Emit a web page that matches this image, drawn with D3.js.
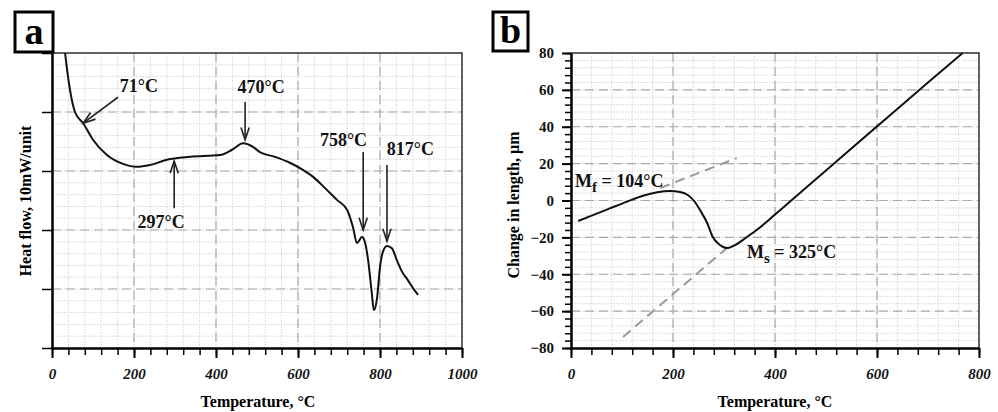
<!DOCTYPE html>
<html>
<head>
<meta charset="utf-8">
<script src="https://cdn.jsdelivr.net/npm/d3@7"></script>
<style>
  body { margin: 0; background: #fff; }
  svg { display: block; font-family: "Liberation Serif", "Times New Roman", serif; }
</style>
</head>
<body>
<div id="container"></div>
<script>
/* DATA */
// panel a: DSC heat flow
const heatTemp = [32, 38, 44, 56, 76, 100, 134, 173, 207, 239, 280, 337, 410, 439, 466, 490, 507, 544, 580, 612, 637, 666, 695, 720, 734, 744, 756, 763, 771, 780, 785, 793, 800, 807, 817, 829, 841, 854, 868, 880, 893];
const heatFlow = [5.0, 4.65, 4.37, 4.0, 3.81, 3.53, 3.27, 3.12, 3.07, 3.10, 3.19, 3.24, 3.27, 3.36, 3.47, 3.41, 3.32, 3.24, 3.14, 3.02, 2.90, 2.71, 2.51, 2.34, 2.05, 1.78, 1.88, 1.80, 1.49, 0.93, 0.64, 0.86, 1.37, 1.63, 1.73, 1.69, 1.49, 1.29, 1.15, 1.02, 0.90];
const heatXTicks = [0, 200, 400, 600, 800, 1000];
const heatYTicks = [0, 1, 2, 3, 4, 5];

// panel b: dilatometry
const lenTemp = [14, 43, 76, 110, 141, 169, 194, 214, 229, 243, 253, 267, 278, 292, 306, 318, 345, 371, 396, 420, 500, 600, 700, 768];
const lenChange = [-11.1, -7.9, -4.3, -0.6, 2.6, 4.5, 5.2, 4.6, 3.0, -0.8, -5.2, -12.2, -19.8, -24.1, -25.8, -24.7, -19.8, -14.5, -8.6, -2.8, 16.3, 40.2, 64, 80];
const lenXTicks = [0, 200, 400, 600, 800];
const lenYTicks = [-80, -60, -40, -20, 0, 20, 40, 60, 80];
const mfTangentT = [175, 325], mfTangentV = [6.8, 23];
const msTangentT = [102, 308], msTangentV = [-74, -25.2];

// annotations (temperature labels with arrows)
const heatNotes = [
  { label: "71°C",  tx: 212, ty: 4.34, from: [161, 4.25], to: [76, 3.81] },
  { label: "470°C", tx: 510, ty: 4.32, from: [471, 4.17], to: [471, 3.53] },
  { label: "297°C", tx: 266, ty: 2.03, from: [298, 2.37], to: [298, 3.17] },
  { label: "758°C", tx: 711, ty: 3.42, from: [759, 3.32], to: [759, 2.0] },
  { label: "817°C", tx: 874, ty: 3.27, from: [817, 3.10], to: [817, 1.81] }
];

/* SETUP */
const W = 998, H = 412;
const svg = d3.select('#container').append('svg')
  .attr('width', W).attr('height', H);

const plotTop = 53, plotBottom = 348;

const xA = d3.scaleLinear().domain([0, 1000]).range([52, 462]);
const yA = d3.scaleLinear().domain([0, 5]).range([plotBottom, plotTop]);
const xB = d3.scaleLinear().domain([0, 800]).range([571, 979]);
const yB = d3.scaleLinear().domain([-80, 80]).range([plotBottom, plotTop]);

function grid(x, y, xMinor, yMinor, xMajor, yMajor) {
  const g = svg.append('g');
  g.selectAll('line.vmin').data(xMinor).join('line')
    .attr('x1', d => x(d)).attr('x2', d => x(d))
    .attr('y1', plotTop).attr('y2', plotBottom)
    .attr('stroke', '#dedede').attr('stroke-width', 1).attr('stroke-dasharray', '2,1');
  g.selectAll('line.hmin').data(yMinor).join('line')
    .attr('x1', x.range()[0]).attr('x2', x.range()[1])
    .attr('y1', d => y(d)).attr('y2', d => y(d))
    .attr('stroke', '#dedede').attr('stroke-width', 1).attr('stroke-dasharray', '2,1');
  g.selectAll('line.vmaj').data(xMajor).join('line')
    .attr('x1', d => x(d)).attr('x2', d => x(d))
    .attr('y1', plotTop).attr('y2', plotBottom)
    .attr('stroke', '#aaa').attr('stroke-width', 1.2).attr('stroke-dasharray', '9,5');
  g.selectAll('line.hmaj').data(yMajor).join('line')
    .attr('x1', x.range()[0]).attr('x2', x.range()[1])
    .attr('y1', d => y(d)).attr('y2', d => y(d))
    .attr('stroke', '#aaa').attr('stroke-width', 1.2).attr('stroke-dasharray', '9,5');
}

function frame(x) {
  const [x0, x1] = x.range();
  svg.append('path')
    .attr('d', `M${x0},${plotTop}H${x1}V${plotBottom}`)
    .attr('fill', 'none').attr('stroke', '#333').attr('stroke-width', 1.5);
}

function panelLetter(x0, y0, w, h, letter, size) {
  svg.append('rect').attr('x', x0).attr('y', y0).attr('width', w).attr('height', h)
    .attr('fill', '#fff').attr('stroke', '#000').attr('stroke-width', 3);
  svg.append('text').attr('x', x0 + w / 2).attr('y', y0 + h - 8)
    .attr('text-anchor', 'middle').attr('font-weight', 'bold')
    .attr('font-size', size).text(letter);
}

function arrow(x1, y1, x2, y2) {
  const ang = Math.atan2(y2 - y1, x2 - x1);
  const len = 13, spread = 0.32;
  const g = svg.append('g').attr('stroke', '#222').attr('stroke-width', 1.6).attr('fill', 'none');
  g.append('line').attr('x1', x1).attr('y1', y1).attr('x2', x2).attr('y2', y2);
  g.append('path').attr('d',
    `M${x2 - len * Math.cos(ang - spread)},${y2 - len * Math.sin(ang - spread)}` +
    `L${x2},${y2}` +
    `L${x2 - len * Math.cos(ang + spread)},${y2 - len * Math.sin(ang + spread)}`);
}

const styleTickText = (italic) => g => g.selectAll('text')
  .attr('font-size', 15).attr('font-weight', 'bold')
  .attr('font-style', italic ? 'italic' : 'normal')
  .attr('font-family', 'Liberation Serif').attr('fill', '#111');

/* PANEL A */
grid(xA, yA, d3.range(0, 1001, 40), d3.range(0, 5.01, 0.2), [200, 400, 600, 800], [1, 2, 3, 4]);
frame(xA);

const lineA = d3.line().x(d => xA(d[0])).y(d => yA(d[1])).curve(d3.curveMonotoneX);
svg.append('path').datum(d3.zip(heatTemp, heatFlow))
  .attr('d', lineA).attr('fill', 'none').attr('stroke', '#111').attr('stroke-width', 2);

// axes
svg.append('g').attr('transform', `translate(0,${plotBottom})`)
  .call(d3.axisBottom(xA).tickValues(d3.range(0, 1001, 40)).tickSize(7).tickFormat('').tickSizeOuter(0))
  .call(g => g.selectAll('.tick line').attr('stroke-width', 1.5));
svg.append('g').attr('transform', `translate(0,${plotBottom})`)
  .call(d3.axisBottom(xA).tickValues(heatXTicks).tickFormat(d3.format('d')).tickSize(10).tickPadding(10).tickSizeOuter(0))
  .call(g => g.select('.domain').attr('stroke-width', 2.5))
  .call(g => g.selectAll('.tick line').attr('stroke-width', 2))
  .call(styleTickText(true));
svg.append('g').attr('transform', `translate(${xA(0)},0)`)
  .call(d3.axisLeft(yA).tickValues(heatYTicks).tickSize(10).tickFormat('').tickSizeOuter(0))
  .call(g => g.select('.domain').attr('stroke-width', 2.5))
  .call(g => g.selectAll('.tick line').attr('stroke-width', 1.5));

heatNotes.forEach(n => {
  svg.append('text').attr('x', xA(n.tx)).attr('y', yA(n.ty))
    .attr('text-anchor', 'middle').attr('font-size', 18).attr('font-weight', 'bold')
    .attr('fill', '#111').text(n.label);
  arrow(xA(n.from[0]), yA(n.from[1]), xA(n.to[0]), yA(n.to[1]));
});

svg.append('text').attr('x', 258).attr('y', 407).attr('text-anchor', 'middle')
  .attr('font-size', 16).attr('font-weight', 'bold').text('Temperature, °C');
svg.append('text').attr('transform', 'translate(31,201) rotate(-90)').attr('text-anchor', 'middle')
  .attr('font-size', 16).attr('font-weight', 'bold').text('Heat flow, 10mW/unit');

panelLetter(15, 12, 38, 40, 'a', 38);

/* PANEL B */
grid(xB, yB, d3.range(0, 801, 40), d3.range(-80, 81, 4), [200, 400, 600], [-60, -40, -20, 0, 20, 40, 60]);
frame(xB);

// tangent construction lines
[[mfTangentT, mfTangentV], [msTangentT, msTangentV]].forEach(([t, v]) => {
  svg.append('line')
    .attr('x1', xB(t[0])).attr('y1', yB(v[0])).attr('x2', xB(t[1])).attr('y2', yB(v[1]))
    .attr('stroke', '#999').attr('stroke-width', 2).attr('stroke-dasharray', '10,6');
});

const lineB = d3.line().x(d => xB(d[0])).y(d => yB(d[1])).curve(d3.curveMonotoneX);
svg.append('path').datum(d3.zip(lenTemp, lenChange))
  .attr('d', lineB).attr('fill', 'none').attr('stroke', '#111').attr('stroke-width', 2);

svg.append('g').attr('transform', `translate(0,${plotBottom})`)
  .call(d3.axisBottom(xB).tickValues(d3.range(0, 801, 40)).tickSize(7).tickFormat('').tickSizeOuter(0))
  .call(g => g.selectAll('.tick line').attr('stroke-width', 1.5));
svg.append('g').attr('transform', `translate(0,${plotBottom})`)
  .call(d3.axisBottom(xB).tickValues(lenXTicks).tickFormat(d3.format('d')).tickSize(10).tickPadding(10).tickSizeOuter(0))
  .call(g => g.select('.domain').attr('stroke-width', 2.5))
  .call(g => g.selectAll('.tick line').attr('stroke-width', 2))
  .call(styleTickText(true));
svg.append('g').attr('transform', `translate(${xB(0)},0)`)
  .call(d3.axisLeft(yB).tickValues(d3.range(-80, 81, 4)).tickSize(6).tickFormat('').tickSizeOuter(0))
  .call(g => g.selectAll('.tick line').attr('stroke-width', 1.5));
svg.append('g').attr('transform', `translate(${xB(0)},0)`)
  .call(d3.axisLeft(yB).tickValues(lenYTicks).tickSize(9).tickPadding(8).tickSizeOuter(0))
  .call(g => g.select('.domain').attr('stroke-width', 2.5))
  .call(g => g.selectAll('.tick line').attr('stroke-width', 2))
  .call(styleTickText(false));

// Mf / Ms labels
const mf = svg.append('text').attr('x', xB(8)).attr('y', yB(7.3))
  .attr('font-size', 18).attr('font-weight', 'bold').attr('fill', '#111');
mf.append('tspan').text('M');
mf.append('tspan').attr('dy', 5).attr('font-size', 15).text('f');
mf.append('tspan').attr('dy', -5).text(' = 104°C');

const ms = svg.append('text').attr('x', xB(345)).attr('y', yB(-31.2))
  .attr('font-size', 18).attr('font-weight', 'bold').attr('fill', '#111');
ms.append('tspan').text('M');
ms.append('tspan').attr('dy', 5).attr('font-size', 15).text('s');
ms.append('tspan').attr('dy', -5).text(' = 325°C');

svg.append('text').attr('x', 775).attr('y', 407).attr('text-anchor', 'middle')
  .attr('font-size', 16).attr('font-weight', 'bold').text('Temperature, °C');
svg.append('text').attr('transform', 'translate(519,205) rotate(-90)').attr('text-anchor', 'middle')
  .attr('font-size', 16).attr('font-weight', 'bold').text('Change in length, µm');

panelLetter(493, 12, 35, 39, 'b', 38);
</script>
</body>
</html>
